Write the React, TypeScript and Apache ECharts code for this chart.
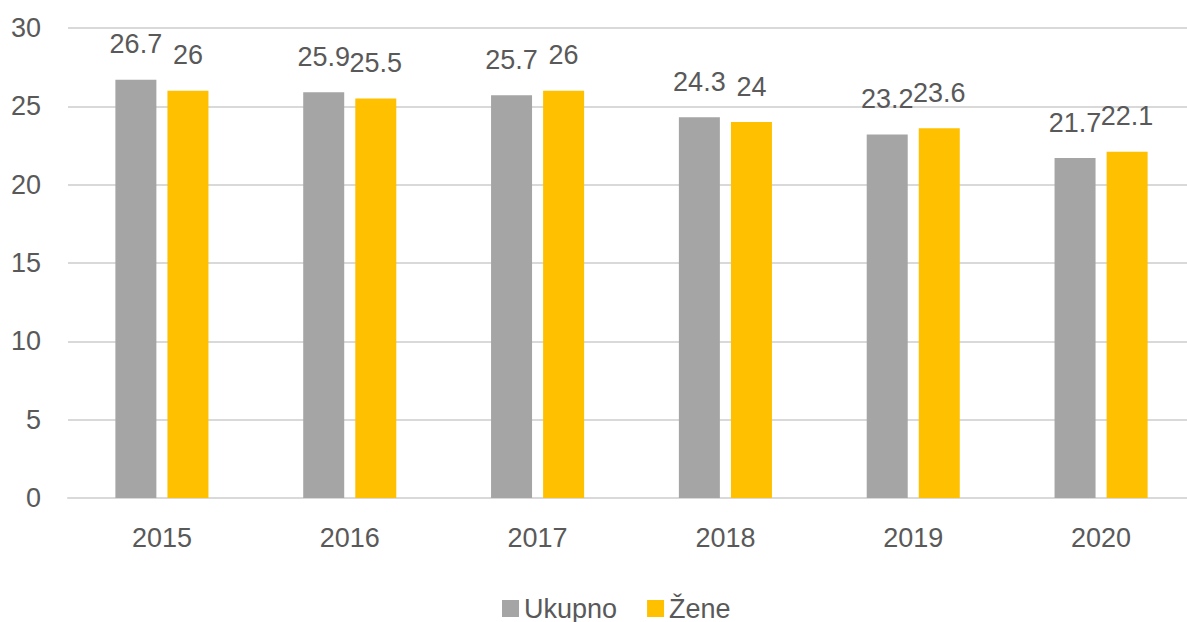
import React, { useEffect, useRef } from "react";
import * as echarts from "echarts";

const categories = ["2015", "2016", "2017", "2018", "2019", "2020"];
const ukupno = [26.7, 25.9, 25.7, 24.3, 23.2, 21.7];
const zene = [26, 25.5, 26, 24, 23.6, 22.1];
const seriesNames = ["Ukupno", "Žene"];

const FONT = "Liberation Sans";
const TEXT = "#595959";
const FS = 27;

export default function App() {
  const ref = useRef<HTMLDivElement>(null);
  useEffect(() => {
    if (!ref.current) return;
    const chart = echarts.init(ref.current, undefined, { renderer: "svg" });
    const label = {
      show: true,
      position: "top",
      distance: 22,
      color: TEXT,
      fontSize: FS,
      fontFamily: FONT,
    };
    chart.setOption({
      animation: false,
      backgroundColor: "#ffffff",
      textStyle: { fontFamily: FONT },
      grid: { left: 68, right: 5, top: 28, bottom: 124, containLabel: false },
      legend: {
        data: seriesNames,
        top: 590,
        left: 497,
        itemWidth: 17,
        itemHeight: 17,
        itemGap: 30,
        icon: "rect",
        textStyle: { color: TEXT, fontSize: FS, fontFamily: FONT },
      },
      xAxis: {
        type: "category",
        data: categories,
        axisLine: { show: true, lineStyle: { color: "#D9D9D9", width: 2 } },
        axisTick: { show: false },
        axisLabel: { color: TEXT, fontSize: FS, fontFamily: FONT, margin: 26 },
      },
      yAxis: {
        type: "value",
        min: 0,
        max: 30,
        interval: 5,
        axisLine: { show: false },
        axisTick: { show: false },
        axisLabel: { color: TEXT, fontSize: FS, fontFamily: FONT, margin: 27 },
        splitLine: { lineStyle: { color: "#D9D9D9", width: 2 } },
      },
      series: [
        {
          name: seriesNames[0],
          type: "bar",
          data: ukupno,
          barWidth: 41,
          barGap: "27%",
          itemStyle: { color: "#A5A5A5" },
          label,
        },
        {
          name: seriesNames[1],
          type: "bar",
          data: zene,
          barWidth: 41,
          barGap: "27%",
          itemStyle: { color: "#FFC000" },
          label,
        },
      ],
    });
    return () => chart.dispose();
  }, []);
  return (
    <div
      style={{
        position: "fixed",
        left: 0,
        top: 0,
        width: 1187,
        height: 622,
        overflow: "hidden",
        background: "#ffffff",
      }}
    >
      <div ref={ref} style={{ width: 1200, height: 622 }} />
    </div>
  );
}
